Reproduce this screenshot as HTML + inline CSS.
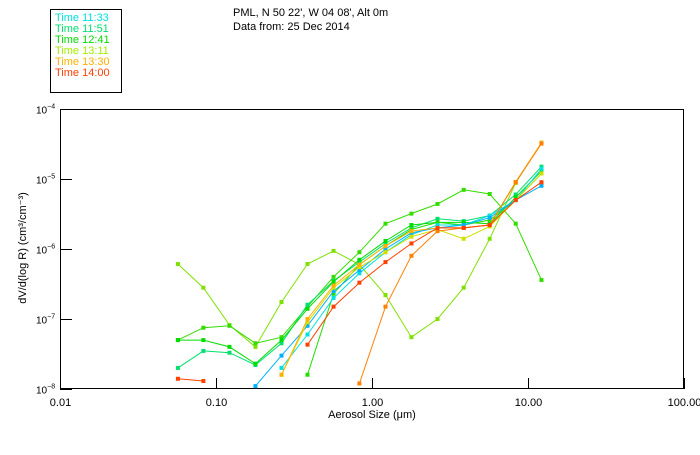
<!DOCTYPE html>
<html><head><meta charset="utf-8"><style>
body{margin:0;background:#fff;width:700px;height:450px;overflow:hidden}
svg text{font-family:"Liberation Sans",sans-serif}
</style></head><body>
<svg id="chart" width="700" height="450" xmlns="http://www.w3.org/2000/svg">
<rect x="50.5" y="9.5" width="71" height="83" fill="#fff" stroke="#000"/>
<g font-size="11">
<text x="55" y="21" fill="#00e0e0">Time 11:33</text>
<text x="55" y="32" fill="#00e070">Time 11:51</text>
<text x="55" y="43" fill="#00dd00">Time 12:41</text>
<text x="55" y="54" fill="#a0ee00">Time 13:11</text>
<text x="55" y="65" fill="#ffb000">Time 13:30</text>
<text x="55" y="76" fill="#ff4000">Time 14:00</text>
</g>
<text x="233" y="16" font-size="11">PML, N 50 22', W 04 08', Alt 0m</text>
<text x="233" y="30" font-size="11">Data from: 25 Dec 2014</text>
<rect x="60.5" y="109.5" width="623" height="279" fill="none" stroke="#000"/>
<g id="axes"></g>
<g id="series"></g>
<text x="372" y="418" font-size="11" text-anchor="middle">Aerosol Size (μm)</text>
<text transform="translate(26,248) rotate(-90)" font-size="11" text-anchor="middle">dV/d(log R) (cm³/cm⁻³)</text>
</svg>
<script>
const sizes=[0.057,0.083,0.122,0.179,0.263,0.386,0.567,0.83,1.22,1.79,2.63,3.87,5.68,8.34,12.2];
const xTicks=[0.01,0.1,1,10,100];
const xTickLabels=["0.01","0.10","1.00","10.00","100.00"];
const yTickExps=[-4,-5,-6,-7,-8];
const sBump=[6.1e-7,2.8e-7,8.2e-8,4e-8,1.75e-7,6.1e-7,9.4e-7,6e-7,2.2e-7,5.5e-8,1e-7,2.8e-7,1.4e-6,8.8e-6,3.3e-5];
const sHigh=[5e-8,7.5e-8,8e-8,4.5e-8,5.5e-8,1.5e-7,4e-7,9e-7,2.3e-6,3.2e-6,4.4e-6,7e-6,6.1e-6,2.3e-6,3.6e-7];
const s1151=[2e-8,3.5e-8,3.3e-8,2.2e-8,4.5e-8,1.6e-7,3.5e-7,6.5e-7,1.2e-6,2e-6,2.7e-6,2.5e-6,3e-6,6e-6,1.5e-5];
const s1241=[5e-8,5e-8,4e-8,2.3e-8,5e-8,1.4e-7,3.4e-7,7e-7,1.3e-6,2.2e-6,2.4e-6,2.4e-6,2.3e-6,5.5e-6,1.3e-5];
const s1133=[null,null,null,null,2e-8,6e-8,2e-7,4.5e-7,9e-7,1.6e-6,2.2e-6,2.2e-6,3e-6,5e-6,1.4e-5];
const sBlue=[null,null,null,1.1e-8,3e-8,8e-8,2.5e-7,5e-7,1e-6,1.7e-6,2e-6,2.2e-6,2.8e-6,5e-6,8e-6];
const s1330=[null,null,null,null,1.6e-8,1e-7,3e-7,6e-7,1.1e-6,1.8e-6,2e-6,2e-6,2.2e-6,9e-6,3.3e-5];
const s1311=[null,null,null,null,1.6e-8,9e-8,2.8e-7,5.5e-7,9e-7,1.5e-6,1.9e-6,1.4e-6,2.1e-6,5e-6,1.2e-5];
const sOrange=[null,null,null,null,null,null,null,1.2e-8,1.5e-7,8e-7,1.8e-6,2e-6,2.2e-6,9e-6,3.2e-5];
const s1400=[1.4e-8,1.3e-8,null,null,null,4.3e-8,1.5e-7,3.3e-7,6.5e-7,1.2e-6,2e-6,2e-6,2.2e-6,5e-6,9e-6];
const sLate=[null,null,null,null,null,1.6e-8,2.3e-7,6e-7,1.1e-6,1.9e-6,2.4e-6,2.2e-6,2.6e-6,5e-6,1.2e-5];
const seriesList=[[sBump,"#80e000"],[sHigh,"#33dd00"],[s1151,"#00e070"],[s1241,"#00dd00"],[sLate,"#22dd00"],[s1133,"#00e0e0"],[sBlue,"#00b0ff"],[s1311,"#d0e000"],[s1330,"#ffb000"],[sOrange,"#ff8000"],[s1400,"#ff4000"]];
const L=60,R=684,T=109,B=389;
function xs(v){return L+(Math.log10(v)+2)*(R-L)/4;}
function ys(v){return T+(-4-Math.log10(v))*(B-T)/4;}
const NS="http://www.w3.org/2000/svg";
const ax=document.getElementById("axes");
xTicks.forEach((t,i)=>{
 const x=xs(t)+0.5;
 const ln=document.createElementNS(NS,"line");
 
 
 ln.setAttribute("x1",x);ln.setAttribute("x2",x);ln.setAttribute("y1",B);ln.setAttribute("y2",B-11);ln.setAttribute("stroke","#000");
 ax.appendChild(ln);
 const tx=document.createElementNS(NS,"text");
 
 
 tx.setAttribute("x",x);tx.setAttribute("y",B+17);tx.setAttribute("font-size","11");tx.setAttribute("text-anchor","middle");
 tx.textContent=xTickLabels[i];ax.appendChild(tx);
});
yTickExps.forEach(e=>{
 const y=ys(Math.pow(10,e))+0.5;
 const ln=document.createElementNS(NS,"line");
 
 
 ln.setAttribute("x1",L);ln.setAttribute("x2",L+12);ln.setAttribute("y1",y);ln.setAttribute("y2",y);ln.setAttribute("stroke","#000");
 ax.appendChild(ln);
 const tx=document.createElementNS(NS,"text");
 
 
 tx.setAttribute("x",36);tx.setAttribute("y",y+4);tx.setAttribute("font-size","10");
 tx.innerHTML='10<tspan dy="-5" font-size="7">'+(e<0?'−':'')+Math.abs(e)+'</tspan>';
 ax.appendChild(tx);
});
const sg=document.getElementById("series");
seriesList.forEach(([vals,col],si)=>{
 const g=document.createElementNS(NS,"g");
 
 
 let d="",pen=false;
 vals.forEach((v,i)=>{
  if(v==null){pen=false;return;}
  const x=xs(sizes[i]),y=ys(v);
  d+=(pen?"L":"M")+x.toFixed(1)+" "+y.toFixed(1);pen=true;
  const r=document.createElementNS(NS,"rect");
  
  
  r.setAttribute("x",x-2);r.setAttribute("y",y-2);r.setAttribute("width",4);r.setAttribute("height",4);r.setAttribute("fill",col);
  g.appendChild(r);
 });
 const p=document.createElementNS(NS,"path");
 
 
 p.setAttribute("d",d);p.setAttribute("fill","none");p.setAttribute("stroke",col);p.setAttribute("stroke-width","1");
 g.insertBefore(p,g.firstChild);
 sg.appendChild(g);
});
</script>
</body></html>
